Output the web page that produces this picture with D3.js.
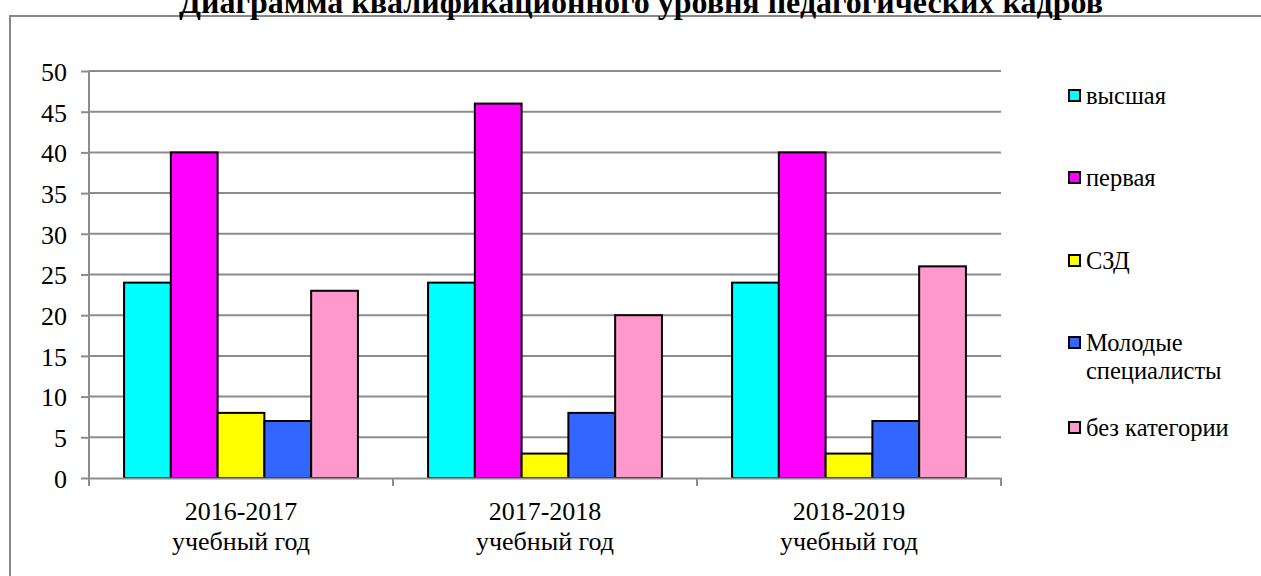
<!DOCTYPE html>
<html>
<head>
<meta charset="utf-8">
<script src="https://cdn.jsdelivr.net/npm/d3@7"></script>
<style>
  body { margin: 0; background: #fff; }
  svg { display: block; }
</style>
</head>
<body>
<svg id="chart" width="1261" height="576"></svg>
<script>
const title = 'Диаграмма квалификационного уровня педагогических кадров';
const years = ['2016-2017', '2017-2018', '2018-2019'];
const seriesNames = ['высшая', 'первая', 'СЗД', 'Молодые специалисты', 'без категории'];
const vysshaya = [24, 24, 24];
const pervaya = [40, 46, 40];
const szd = [8, 3, 3];
const molodye = [7, 8, 7];
const bezKat = [23, 20, 26];
const yTicks = [0, 5, 10, 15, 20, 25, 30, 35, 40, 45, 50];
const colors = ['#00ffff', '#ff00ff', '#ffff00', '#3366ff', '#ff99cc'];

const series = [vysshaya, pervaya, szd, molodye, bezKat];
const FONT = '"Liberation Serif", "Times New Roman", serif';

const svg = d3.select('#chart');
const margin = { top: 71, left: 89 };

// outer frame
svg.append('rect')
  .attr('x', 10).attr('y', 16)
  .attr('width', 1300).attr('height', 700)
  .attr('fill', 'none')
  .attr('stroke', '#888')
  .attr('stroke-width', 2);

svg.append('text')
  .attr('x', 641).attr('y', 13)
  .attr('text-anchor', 'middle')
  .style('font-family', FONT)
  .style('font-weight', 'bold')
  .style('font-size', '32px')
  .text(title);

const x0 = d3.scaleBand()
  .domain(years)
  .range([margin.left, 1001])
  .paddingInner(0)
  .paddingOuter(0);

const x1 = d3.scaleBand()
  .domain(d3.range(seriesNames.length))
  .range([0, x0.bandwidth()])
  .paddingOuter(0.75)
  .paddingInner(0);

const y = d3.scaleLinear()
  .domain([0, 50])
  .range([478, margin.top]);

// gridlines
svg.append('g')
  .selectAll('line')
  .data(yTicks.filter(d => d > 0))
  .enter()
  .append('line')
  .attr('x1', margin.left).attr('x2', 1001)
  .attr('y1', d => y(d)).attr('y2', d => y(d))
  .attr('stroke', '#8c8c8c')
  .attr('stroke-width', 2);

// y axis
const yAxis = svg.append('g')
  .attr('transform', `translate(${margin.left},0)`)
  .call(d3.axisLeft(y).tickValues(yTicks).tickSize(8).tickPadding(14));
yAxis.select('.domain').remove();
yAxis.selectAll('.tick line').attr('stroke', '#8c8c8c').attr('stroke-width', 2);
yAxis.selectAll('.tick text')
  .style('font-family', FONT)
  .style('font-size', '26px')
  .attr('fill', '#000')
  .attr('dy', '0.36em');
svg.append('line')
  .attr('x1', margin.left).attr('x2', margin.left)
  .attr('y1', margin.top).attr('y2', 486)
  .attr('stroke', '#8c8c8c').attr('stroke-width', 2);

// bars
const groups = svg.append('g')
  .selectAll('g')
  .data(years)
  .enter()
  .append('g')
  .attr('transform', d => `translate(${x0(d)},0)`);

groups.selectAll('rect')
  .data((d, i) => series.map((s, k) => ({ k, v: s[i] })))
  .enter()
  .append('rect')
  .attr('x', d => x1(d.k))
  .attr('y', d => y(d.v))
  .attr('width', x1.bandwidth())
  .attr('height', d => y(0) - y(d.v))
  .attr('fill', d => colors[d.k])
  .attr('stroke', '#000')
  .attr('stroke-width', 2);

// x axis
const xAxis = svg.append('g')
  .attr('transform', 'translate(0,478)')
  .call(d3.axisBottom(x0).tickSize(0).tickFormat(''));
xAxis.select('.domain').attr('stroke', '#8c8c8c').attr('stroke-width', 2);
svg.append('g')
  .selectAll('line')
  .data(years)
  .enter()
  .append('line')
  .attr('x1', d => x0(d) + x0.bandwidth()).attr('x2', d => x0(d) + x0.bandwidth())
  .attr('y1', 478).attr('y2', 486)
  .attr('stroke', '#8c8c8c').attr('stroke-width', 2);

const catLabels = svg.append('g')
  .selectAll('text')
  .data(years)
  .enter()
  .append('text')
  .attr('x', d => x0(d) + x0.bandwidth() / 2)
  .attr('y', 520)
  .attr('text-anchor', 'middle')
  .style('font-family', FONT)
  .style('font-size', '26px');
catLabels.append('tspan').text(d => d);
catLabels.append('tspan')
  .attr('x', d => x0(d) + x0.bandwidth() / 2)
  .attr('dy', 30)
  .text('учебный год');

// legend
const legendY = [104, 186, 269, 351, 436];
const legend = svg.append('g')
  .selectAll('g')
  .data(seriesNames)
  .enter()
  .append('g')
  .attr('transform', (d, i) => `translate(1068,${legendY[i]})`);

legend.append('rect')
  .attr('x', 1).attr('y', -14)
  .attr('width', 11).attr('height', 11)
  .attr('fill', (d, i) => colors[i])
  .attr('stroke', '#000')
  .attr('stroke-width', 2);

legend.append('text')
  .attr('x', 18)
  .style('font-family', FONT)
  .style('font-size', '24.5px')
  .each(function (d) {
    const parts = d === 'Молодые специалисты' ? ['Молодые', 'специалисты'] : [d];
    parts.forEach((p, j) => {
      d3.select(this).append('tspan')
        .attr('x', 18)
        .attr('dy', j === 0 ? 0 : 28)
        .text(p);
    });
  });
</script>
</body>
</html>
